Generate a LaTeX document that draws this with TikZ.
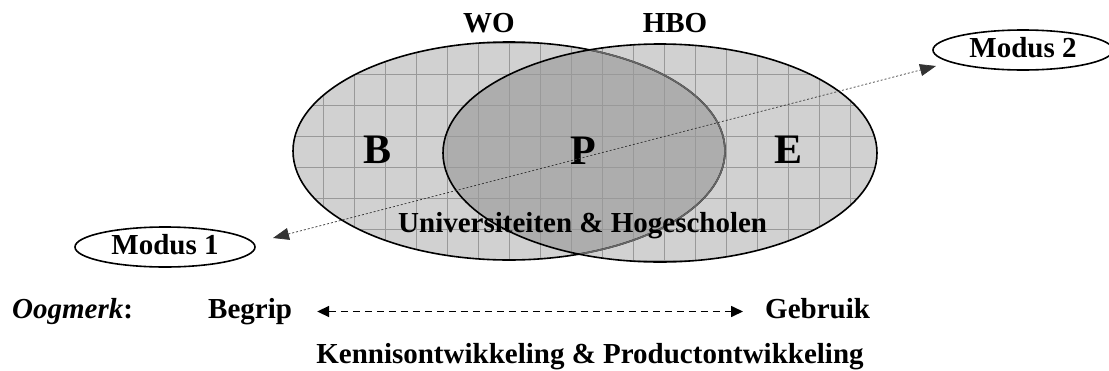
\documentclass[tikz,border=0pt]{standalone}
\usepackage{fontspec}
\setmainfont{Liberation Serif}
\usetikzlibrary{positioning,shapes.geometric,arrows.meta}

\definecolor{vennfill}{gray}{0.82}
\definecolor{vennmid}{gray}{0.68}

\tikzset{
  lbl/.style={font=\fontsize{29}{34}\selectfont\bfseries, inner sep=0pt,
    text height=20pt, text depth=7pt},
  letter/.style={font=\fontsize{42}{48}\selectfont\bfseries, inner sep=0pt},
  modus/.style={lbl, text depth=5pt, ellipse, draw, line width=1.6pt,
    minimum width=180pt, minimum height=40pt},
  gridline/.style={draw=gray!80, line width=0.8pt},
  rim/.style={draw=black, line width=1.6pt},
  flow/.style={<->, >={Triangle[length=12pt,width=11pt]},
    dash pattern=on 7pt off 5pt, line width=1.6pt},
  modusline/.style={<->, >={Triangle[length=16pt,width=12pt]},
    dash pattern=on 2pt off 2pt, line width=0.7pt, draw=black!80},
}

\begin{document}
\begin{tikzpicture}[x=1pt,y=-1pt]
  \useasboundingbox (0,0) rectangle (1109,370);

  % the two sets
  \fill[vennfill] (509,151) ellipse [x radius=216, y radius=109];
  \fill[vennfill] (660,153) ellipse [x radius=217, y radius=109];
  \begin{scope}
    \clip (509,151) ellipse [x radius=216, y radius=109];
    \fill[vennmid] (660,153) ellipse [x radius=217, y radius=109];
  \end{scope}
  % grid on both sets
  \begin{scope}
    \clip (509,151) ellipse [x radius=216, y radius=109];
    \draw[gridline, shift={(13.3,12)}] (250,290) grid[step=31pt] (900,20);
  \end{scope}
  \begin{scope}
    \clip (660,153) ellipse [x radius=217, y radius=109];
    \draw[gridline, shift={(13.3,12)}] (250,290) grid[step=31pt] (900,20);
  \end{scope}
  \draw[rim] (509,151) ellipse [x radius=216, y radius=109];
  \begin{scope}
    \clip (660,153) ellipse [x radius=217, y radius=109];
    \draw[rim, draw=black!60] (509,151) ellipse [x radius=216, y radius=109];
  \end{scope}
  \draw[rim] (660,153) ellipse [x radius=217, y radius=109];

  \node[lbl, anchor=base] (wo) at (489,32) {WO};
  \node[lbl, anchor=base] (hbo) at (675,32) {HBO};
  \node[letter] (b) at (378,150) {B};
  \node[letter] (p) at (583,151) {P};
  \node[letter] (e) at (788,150) {E};
  \node[lbl, anchor=base west] (uni) at (398,232) {Universiteiten \& Hogescholen};

  \node[modus] (modus1) at (165,247) {Modus 1};
  \node[modus] (modus2) at (1023,50) {Modus 2};
  \coordinate (m1tip) at (273,238);
  \coordinate (m2tip) at (936,66);
  \draw[modusline] (m1tip) -- (m2tip);

  % purpose axis
  \node[lbl, anchor=base west] (oogmerk) at (12,318) {\textit{Oogmerk}:};
  \node[lbl, anchor=base west] (begrip) at (208,318) {Begrip};
  \node[lbl, anchor=base west] (gebruik) at (765,318) {Gebruik};
  \draw[flow, shorten <=25pt, shorten >=22pt] (begrip.east) -- (gebruik.west);
  \node[lbl, anchor=base] (kennis) at (590,363)
    {Kennisontwikkeling \& Productontwikkeling};
\end{tikzpicture}
\end{document}
